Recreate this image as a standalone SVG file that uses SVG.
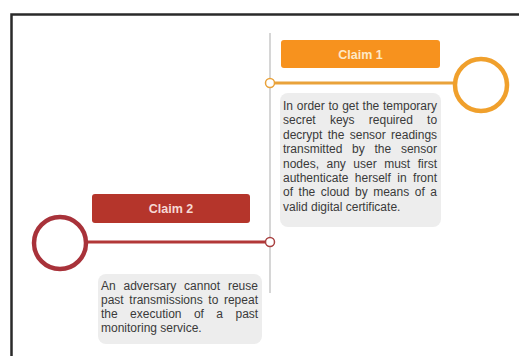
<svg xmlns="http://www.w3.org/2000/svg" width="519" height="356" viewBox="0 0 519 356">
<style>
.frame{fill:none;stroke:#2a2a2a;stroke-width:2.5}
.axis{stroke:#c9c9c9;stroke-width:1.5;fill:none}
.title{font-family:"Liberation Sans",Arial,sans-serif;font-size:12.5px;font-weight:bold;text-anchor:middle}
.body{font-family:"Liberation Sans",Arial,sans-serif;font-size:12px;fill:#3a3a3a}
.tbox{fill:#ededed}
.dot{fill:#ffffff;stroke-width:1.5}
.big{fill:#ffffff;stroke-width:4.5}
</style>
<rect width="519" height="356" fill="#ffffff"/>
<path class="frame" d="M11.5,356 V14.5 H519"/>
<g id="connectors">
<line class="axis" x1="270" y1="33" x2="270" y2="293"/>
<line x1="270" y1="83" x2="455" y2="83" stroke="#e9a23a" stroke-width="3"/>
<line x1="85" y1="242" x2="270" y2="242" stroke="#b23838" stroke-width="3"/>
<circle class="dot" cx="270" cy="83" r="4.5" stroke="#e9a23a"/>
<circle class="dot" cx="270" cy="242" r="4.5" stroke="#a84040"/>
</g>
<g id="claim1">
<circle class="big" cx="481" cy="85" r="26" stroke="#f0a02c"/>
<rect x="281" y="40" width="159" height="28" rx="3" fill="#f7921e"/>
<text class="title" x="360.5" y="58.5" fill="#fde8c6">Claim 1</text>
<rect class="tbox" x="280" y="93" width="161" height="134" rx="8"/>
<text class="body">
<tspan x="283" y="110" word-spacing="0.38">In order to get the temporary</tspan>
<tspan x="283" y="124.4" word-spacing="10.9">secret keys required to</tspan>
<tspan x="283" y="138.8" word-spacing="2">decrypt the sensor readings</tspan>
<tspan x="283" y="153.2" word-spacing="6.4">transmitted by the sensor</tspan>
<tspan x="283" y="167.6" word-spacing="4.15">nodes, any user must first</tspan>
<tspan x="283" y="182" word-spacing="3.1">authenticate herself in front</tspan>
<tspan x="283" y="196.4" word-spacing="2.2">of the cloud by means of a</tspan>
<tspan x="283" y="210.8">valid digital certificate.</tspan>
</text>
</g>
<g id="claim2">
<circle class="big" cx="60" cy="243" r="26" stroke="#a8323a"/>
<rect x="92" y="194" width="158" height="29" rx="3" fill="#b5352b"/>
<text class="title" x="171" y="213" fill="#f6d9d4">Claim 2</text>
<rect class="tbox" x="98" y="274" width="164" height="70" rx="8"/>
<text class="body">
<tspan x="101" y="290" word-spacing="4.5">An adversary cannot reuse</tspan>
<tspan x="101" y="304" word-spacing="2.3">past transmissions to repeat</tspan>
<tspan x="101" y="318" word-spacing="9.1">the execution of a past</tspan>
<tspan x="101" y="332">monitoring service.</tspan>
</text>
</g>
</svg>
